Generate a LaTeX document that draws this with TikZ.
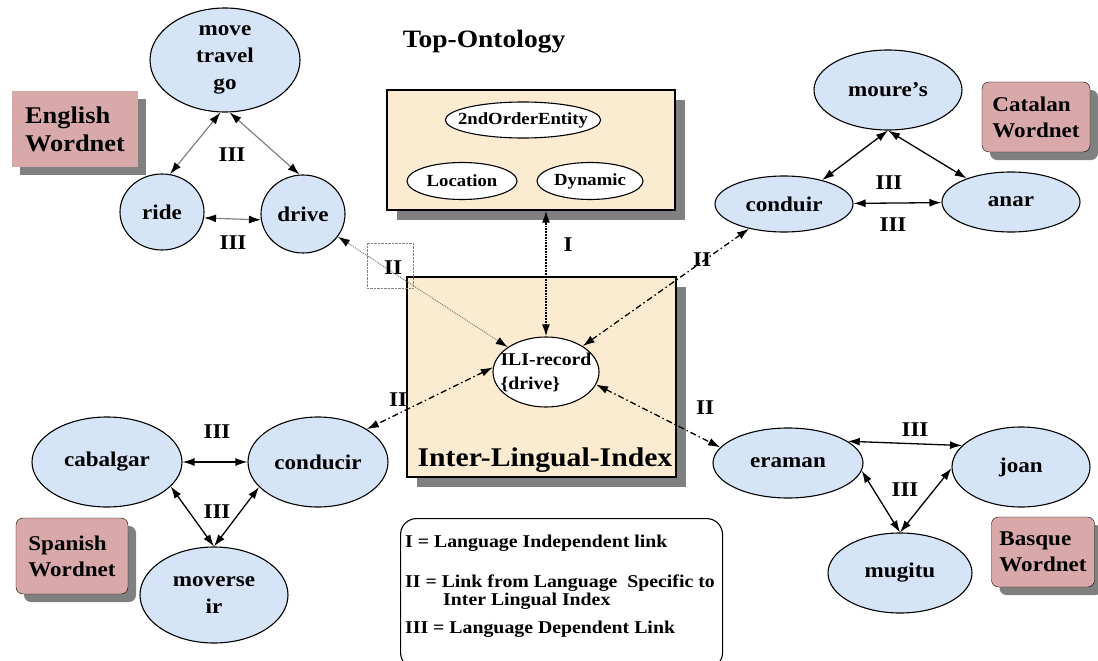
\documentclass[tikz,border=0pt]{standalone}
\usepackage{fontspec}
\setmainfont{Liberation Serif}[FakeStretch=1.1]
\usepackage{tikz}
\usetikzlibrary{%
  positioning
 ,arrows.meta
 ,shapes
 ,shadows
}
\definecolor{synblue}{HTML}{D5E5F7}
\definecolor{parch}{HTML}{FBEBD0}
\definecolor{wnpink}{HTML}{D9A9AA}
\definecolor{shadowgray}{HTML}{808080}
\tikzstyle{wnmap}=[x=1pt,y=-1pt,>={Latex[length=12pt,width=8pt]},font=\bfseries]
\tikzstyle{syn}=[ellipse,draw=black,fill=synblue,line width=1.1pt,inner sep=0pt,align=center,font=\fontsize{21}{27}\selectfont\bfseries]
\tikzstyle{con}=[ellipse,draw=black,fill=white,line width=1.1pt,inner sep=0pt,inner xsep=-10pt,font=\fontsize{17}{20}\selectfont\bfseries]
\tikzstyle{pane}=[rectangle,draw=black,fill=parch,line width=1.1pt,drop shadow={shadow xshift=10pt,shadow yshift=-10pt,fill=shadowgray,opacity=1}]
\tikzstyle{wnet}=[rectangle,rounded corners=7pt,draw=black,fill=wnpink,align=left,font=\fontsize{21}{26}\selectfont\bfseries,drop shadow={shadow xshift=8pt,shadow yshift=-8pt,fill=shadowgray,opacity=1}]
\tikzstyle{dep}=[<->,line width=1.3pt]
\tikzstyle{greydep}=[{Latex[length=12pt,width=8pt,color=black,fill=black]}-{Latex[length=12pt,width=8pt,color=black,fill=black]},shadowgray]
\tikzstyle{spec}=[<->,line width=1.3pt,dash pattern=on 6pt off 3pt on 1.5pt off 3pt]
\tikzstyle{lbl}=[inner sep=0pt,font=\fontsize{21}{24}\selectfont\bfseries]

\begin{document}
\begin{tikzpicture}[wnmap]
      \useasboundingbox (0,0) rectangle (1098,661);
      \fill[white] (0,0) rectangle (1098,661);
      % ontology and index
      \node[pane,minimum width=288pt,minimum height=120pt] (topo) at (531,150) {};
      \node[lbl,font=\fontsize{25}{28}\selectfont\bfseries] (topo_t) at (484,42) {Top-Ontology};
      \node[con,minimum width=154pt,minimum height=36pt] (c_2nd) at (523,120) {2ndOrderEntity};
      \node[con,minimum width=110pt,minimum height=37pt] (c_loc) at (462,181) {Location};
      \node[con,minimum width=106pt,minimum height=37pt] (c_dyn) at (590,181) {Dynamic};
      \node[pane,minimum width=269pt,minimum height=200pt] (ilibox) at (541.5,377) {};
      \node[lbl,font=\fontsize{27}{30}\selectfont\bfseries] (ilibox_t) at (545,460) {Inter-Lingual-Index};
      \node[con,minimum width=106pt,minimum height=70pt,align=left,font=\fontsize{18}{24}\selectfont\bfseries] (ili) at (546,372) {ILI-record\\\{drive\}};
      % wordnets
      \node[syn,minimum width=150pt,minimum height=104pt] (en_move) at (225,60) {move\\travel\\go};
      \node[syn,minimum width=84pt,minimum height=76pt] (en_ride) at (162,212) {ride};
      \node[syn,minimum width=84pt,minimum height=78pt] (en_drive) at (303,214) {drive};
      \node[syn,minimum width=148pt,minimum height=80pt] (ca_moure) at (888,90) {moure's};
      \node[syn,minimum width=138pt,minimum height=56pt] (ca_conduir) at (784,204) {conduir};
      \node[syn,minimum width=138pt,minimum height=60pt] (ca_anar) at (1011,202) {anar};
      \node[syn,minimum width=150pt,minimum height=90pt] (es_cabalgar) at (107,462) {cabalgar};
      \node[syn,minimum width=140pt,minimum height=90pt] (es_conducir) at (318,462) {conducir};
      \node[syn,minimum width=148pt,minimum height=96pt] (es_moverse) at (214,595) {moverse\\ir};
      \node[syn,minimum width=150pt,minimum height=70pt] (eu_eraman) at (788,463) {eraman};
      \node[syn,minimum width=138pt,minimum height=80pt] (eu_joan) at (1021,467) {joan};
      \node[syn,minimum width=144pt,minimum height=80pt] (eu_mugitu) at (900,573) {mugitu};
      \node[wnet,draw=none,rounded corners=0pt,minimum width=126pt,minimum height=76pt,font=\fontsize{24}{28}\selectfont\bfseries] (en_wn) at (75,129) {English\\Wordnet};
      \node[wnet,minimum width=108pt,minimum height=70pt] (ca_wn) at (1036,117) {Catalan\\Wordnet};
      \node[wnet,minimum width=112pt,minimum height=76pt] (es_wn) at (72,556) {Spanish\\Wordnet};
      \node[wnet,minimum width=103pt,minimum height=70pt] (eu_wn) at (1043,552) {Basque\\Wordnet};
      % links
      \path[greydep,line width=1.2pt] (en_move.265) edge (en_ride.78) (en_move.275) edge (en_drive.95)
        (en_ride.-8) edge (en_drive.188);
      \path[dep] (ca_moure.south) edge (ca_conduir.32) edge (ca_anar.152)
        (ca_conduir) edge (ca_anar);
      \path[dep] (es_moverse.north) edge (es_cabalgar.-21) edge (es_conducir.203)
        (es_cabalgar) edge (es_conducir);
      \path[dep] (eu_mugitu.north) edge (eu_eraman.-6) edge (eu_joan.181)
        (eu_eraman.20) edge (eu_joan.160);
      \draw[<->,line width=1.8pt,densely dotted] (ili.north) -- (ili.north |- topo.south);
      \draw[greydep,densely dotted,line width=1pt] (ili) -- (en_drive);
      \draw[spec] (ili) -- (ca_conduir);
      \draw[spec] (ili.175) -- (es_conducir.34);
      \draw[spec] (ili.-14) -- (eu_eraman.167);
      \draw[shadowgray,densely dotted,thin] (367,243) rectangle (413,288);
      % labels
      \node[lbl] (l_en1) at (232,155) {III};
      \node[lbl] (l_en2) at (233,243) {III};
      \node[lbl] (l_ca1) at (889,183) {III};
      \node[lbl] (l_ca2) at (893,225) {III};
      \node[lbl] (l_es1) at (217,432) {III};
      \node[lbl] (l_es2) at (217,512) {III};
      \node[lbl] (l_eu1) at (915,430) {III};
      \node[lbl] (l_eu2) at (905,490) {III};
      \node[lbl] (l_en) at (393,268) {II};
      \node[lbl] (l_ca) at (702,260) {II};
      \node[lbl] (l_es) at (398,400) {II};
      \node[lbl] (l_eu) at (705,408) {II};
      \node[lbl] (l_top) at (568,245) {I};
      % legend
      \node[draw=black,line width=1.1pt,rounded corners=16pt,minimum width=322pt,minimum height=150pt,anchor=north west] (legend) at (400,518) {};
      \node[anchor=north west,align=left,inner sep=0pt,font=\fontsize{18}{18}\selectfont\bfseries] (legend_t) at (405,535)
        {I = Language Independent link\\[22pt]
         II = Link from Language\ \ Specific to\\
         \hspace*{38pt}Inter Lingual Index\\[10pt]
         III = Language Dependent Link};
\end{tikzpicture}
\end{document}
